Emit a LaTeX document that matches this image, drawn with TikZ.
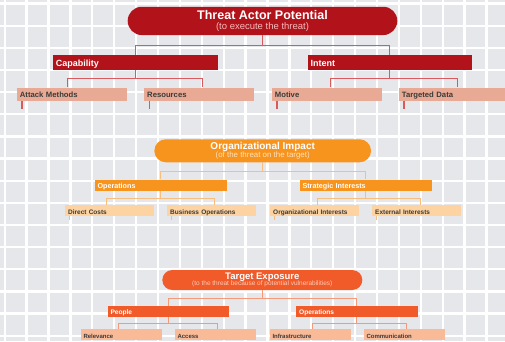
\documentclass[tikz,border=0pt]{standalone}
\usepackage{fontspec}
\setmainfont{Liberation Sans}
\definecolor{bgGray}{HTML}{E6E7EB}
\definecolor{taRed}{HTML}{B2121A}
\definecolor{taLineC}{HTML}{D65A5E}
\definecolor{taLeafC}{HTML}{E8AA94}
\definecolor{taSub}{HTML}{F2BCBE}
\definecolor{oiOrange}{HTML}{F7941E}
\definecolor{oiLineC}{HTML}{F7BE80}
\definecolor{oiLeafC}{HTML}{FDD3A2}
\definecolor{oiSub}{HTML}{FDE2C0}
\definecolor{teOrange}{HTML}{F15A29}
\definecolor{teLineC}{HTML}{F29A7A}
\definecolor{teLeafC}{HTML}{F9BA98}
\definecolor{teSub}{HTML}{FBCDB7}
\definecolor{leafText}{HTML}{3A3A3A}
\tikzset{
  pill/.style={inner sep=0pt, align=center, text=white},
  midbox/.style={anchor=north west, inner xsep=3pt, inner ysep=0pt, align=left, text=white,
    font=\bfseries, text height=0.72em, text depth=0.05em},
  leafbox/.style={anchor=north west, inner xsep=3pt, inner ysep=0pt, align=left, text=leafText,
    font=\bfseries, text height=0.72em, text depth=0.05em},
  % section looks
  taMid/.style={midbox, fill=taRed, text width=158.6, minimum height=15, font=\fontsize{9}{10}\selectfont\bfseries},
  taLeaf/.style={leafbox, fill=taLeafC, text width=104, minimum height=13.4, font=\fontsize{7.7}{9}\selectfont\bfseries},
  taLine/.style={taLineC, line width=1.1pt},
  oiMid/.style={midbox, fill=oiOrange, text width=126.4, minimum height=11.7, font=\fontsize{7.2}{8}\selectfont\bfseries},
  oiLeaf/.style={leafbox, fill=oiLeafC, text width=83, minimum height=11, font=\fontsize{6.5}{7}\selectfont\bfseries},
  oiLine/.style={oiLineC, line width=1.1pt},
  teMid/.style={midbox, fill=teOrange, text width=115.4, minimum height=11, font=\fontsize{6.6}{7}\selectfont\bfseries},
  teLeaf/.style={leafbox, fill=teLeafC, text width=75.4, minimum height=11, font=\fontsize{6}{7}\selectfont\bfseries},
  teLine/.style={teLineC, line width=1.1pt},
}
\begin{document}
\begin{tikzpicture}[x=1pt, y=-1pt]
  \useasboundingbox (0,0) rectangle (505,341);
  % background grid
  \fill[bgGray] (0,0) rectangle (505,341);
  \foreach \i in {0,...,23} \draw[white, line width=2.3pt] (4.7+21.9*\i,0) -- (4.7+21.9*\i,341);
  \foreach \j in {0,...,15} \draw[white, line width=2.3pt] (0,3.5+22.15*\j) -- (505,3.5+22.15*\j);

  % Threat actor potential
  \node[pill, fill=taRed, minimum width=269.6, minimum height=28.3, rounded corners=14.1,
        font=\fontsize{9.5}{10}\selectfont] (tap) at (262.5,20.9)
    {{\fontsize{12.5}{13}\selectfont\bfseries Threat Actor Potential}\\[-0.5pt]{\color{taSub}(to execute the threat)}};
  \node[taMid] (cap) at (52.7,55) {Capability};
  \node[taMid] (int) at (307.3,55) {Intent};
  \node[taLeaf] (atm) at (16.7,87.3) {Attack Methods};
  \node[taLeaf] (res) at (144,87.3) {Resources};
  \node[taLeaf] (mot) at (271.7,87.3) {Motive};
  \node[taLeaf] (tgd) at (398.7,87.3) {Targeted Data};
  \draw[taLine] (tap.south) -- ++(0,10) -| (cap.north);
  \draw[taLine] (tap.south) -- ++(0,10) -| (int.north);
  \draw[taLine] (cap.south) -- ++(0,8.3) -| ([xshift=-4]atm.north);
  \draw[taLine] (cap.south) -- ++(0,8.3) -| ([xshift=3.7]res.north);
  \draw[taLine] (int.south) -- ++(0,8.3) -| ([xshift=4]mot.north);
  \draw[taLine] (int.south) -- ++(0,8.3) -| ([xshift=3.6]tgd.north);
  \foreach \n in {atm,res,mot,tgd}
    \draw[taLine] ([xshift=5.3]\n.south west) -- ++(0,7.6);

  % Organizational impact
  \node[pill, fill=oiOrange, minimum width=216.7, minimum height=23, rounded corners=11.5,
        font=\fontsize{7.9}{8.5}\selectfont] (oim) at (262.7,150.8)
    {{\fontsize{10}{11}\selectfont\bfseries Organizational Impact}\\[-1pt]{\color{oiSub}(of the threat on the target)}};
  \node[oiMid] (ops) at (94.3,179.3) {Operations};
  \node[oiMid] (sti) at (299.3,179.3) {Strategic Interests};
  \node[oiLeaf] (dco) at (65,205) {Direct Costs};
  \node[oiLeaf] (bop) at (167,205) {Business Operations};
  \node[oiLeaf] (ori) at (270,205) {Organizational Interests};
  \node[oiLeaf] (exi) at (372,205) {External Interests};
  \draw[oiLine] (oim.south) -- ++(0,9.4) -| (ops.north);
  \draw[oiLine] (oim.south) -- ++(0,9.4) -| (sti.north);
  \draw[oiLine] (ops.south) -- ++(0,7.3) -| ([xshift=-3.5]dco.north);
  \draw[oiLine] (ops.south) -- ++(0,7.3) -| ([xshift=2.8]bop.north);
  \draw[oiLine] (sti.south) -- ++(0,7.3) -| ([xshift=3.2]ori.north);
  \draw[oiLine] (sti.south) -- ++(0,7.3) -| ([xshift=3.5]exi.north);
  \foreach \n in {dco,bop,ori,exi}
    \draw[oiLine] ([xshift=4.3]\n.south west) -- ++(0,4);

  % Target exposure
  \node[pill, fill=teOrange, minimum width=200, minimum height=20, rounded corners=10,
        font=\fontsize{6.5}{7}\selectfont] (tex) at (262.3,280)
    {{\fontsize{9.5}{10}\selectfont\bfseries Target Exposure}\\[-0.5pt]{\color{teSub}(to the threat because of potential vulnerabilities)}};
  \node[teMid] (ppl) at (107.3,305.7) {People};
  \node[teMid] (tops) at (296,305.7) {Operations};
  \node[teLeaf] (rel) at (80.3,329) {Relevance};
  \node[teLeaf] (acc) at (174.3,329) {Access};
  \node[teLeaf] (inf) at (269.3,329) {Infrastructure};
  \node[teLeaf] (com) at (363.3,329) {Communication};
  \draw[teLine] (tex.south) -- ++(0,8.3) -| (ppl.north);
  \draw[teLine] (tex.south) -- ++(0,8.3) -| (tops.north);
  \draw[teLine] (ppl.south) -- ++(0,6.6) -| ([xshift=-2.7]rel.north);
  \draw[teLine] (ppl.south) -- ++(0,6.6) -| ([xshift=2.7]acc.north);
  \draw[teLine] (tops.south) -- ++(0,6.6) -| ([xshift=2.7]inf.north);
  \draw[teLine] (tops.south) -- ++(0,6.6) -| ([xshift=2.7]com.north);
\end{tikzpicture}
\end{document}
